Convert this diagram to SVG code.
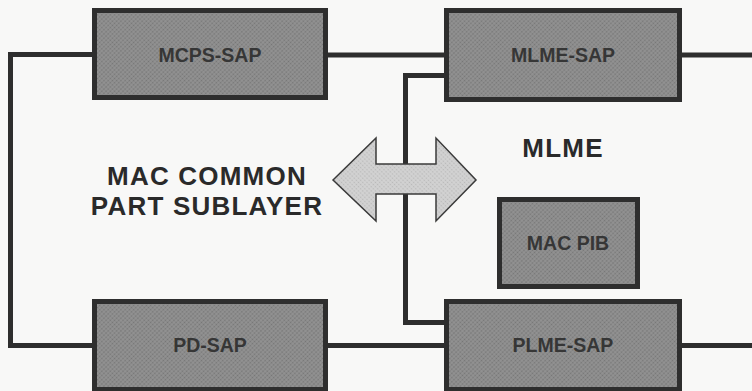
<svg xmlns="http://www.w3.org/2000/svg" width="752" height="391" viewBox="0 0 752 391">
  <defs>
    <pattern id="dots" width="3" height="3" patternUnits="userSpaceOnUse" patternTransform="rotate(45)">
      <rect width="3" height="3" fill="#939393"/>
      <circle cx="1.5" cy="1.5" r="0.9" fill="#767676"/>
    </pattern>
    <pattern id="lightdots" width="3" height="3" patternUnits="userSpaceOnUse" patternTransform="rotate(45)">
      <rect width="3" height="3" fill="#d2d2d2"/>
      <circle cx="1.5" cy="1.5" r="0.8" fill="#b8b8b8"/>
    </pattern>
  </defs>
  <style>
    .box { fill: url(#dots); stroke: #2e2e2e; stroke-width: 5; }
    .wire { fill: none; stroke: #2e2e2e; stroke-width: 5; stroke-linejoin: miter; }
    .lbl { font-family: "Liberation Sans", Arial, sans-serif; font-weight: bold; font-size: 19.5px; fill: #363636; text-anchor: middle; }
    .big { font-family: "Liberation Sans", Arial, sans-serif; font-weight: bold; font-size: 26px; fill: #2a2a2a; text-anchor: middle; letter-spacing: 1.2px; }
  </style>
  <rect width="752" height="391" fill="#f8f8f7"/>

  <g id="connectors">
    <polyline class="wire" points="92,54.5 10.5,54.5 10.5,345.5 92,345.5"/>
    <line class="wire" x1="328" y1="55" x2="444" y2="55"/>
    <line class="wire" x1="682" y1="55" x2="752" y2="55"/>
    <polyline class="wire" points="444,75.5 405.5,75.5 405.5,322.5 444,322.5"/>
    <line class="wire" x1="328" y1="345.5" x2="444" y2="345.5"/>
    <line class="wire" x1="682" y1="345.5" x2="752" y2="345.5"/>
  </g>

  <g id="arrow">
    <polygon points="333,180 376,138 376,164 436,164 436,138 476,180 436,221 436,194 376,194 376,221" fill="url(#lightdots)" stroke="#3a3a3a" stroke-width="1.5" stroke-linejoin="miter"/>
  </g>

  <g id="mcps-sap">
    <rect class="box" x="94.5" y="10.5" width="231" height="87"/>
    <text class="lbl" x="210" y="62">MCPS-SAP</text>
  </g>
  <g id="mlme-sap">
    <rect class="box" x="446.5" y="10.5" width="233" height="89"/>
    <text class="lbl" x="563" y="62">MLME-SAP</text>
  </g>
  <g id="mac-pib">
    <rect class="box" x="499.5" y="199.5" width="138" height="87"/>
    <text class="lbl" x="568" y="250">MAC PIB</text>
  </g>
  <g id="pd-sap">
    <rect class="box" x="94.5" y="301.5" width="231" height="88"/>
    <text class="lbl" x="210" y="352">PD-SAP</text>
  </g>
  <g id="plme-sap">
    <rect class="box" x="446.5" y="301.5" width="233" height="88"/>
    <text class="lbl" x="563" y="352">PLME-SAP</text>
  </g>

  <g id="mac-common-part-sublayer">
    <text class="big" x="207" y="185">MAC COMMON</text>
    <text class="big" x="207" y="214.5">PART SUBLAYER</text>
  </g>
  <g id="mlme">
    <text class="big" x="563" y="157">MLME</text>
  </g>
</svg>
